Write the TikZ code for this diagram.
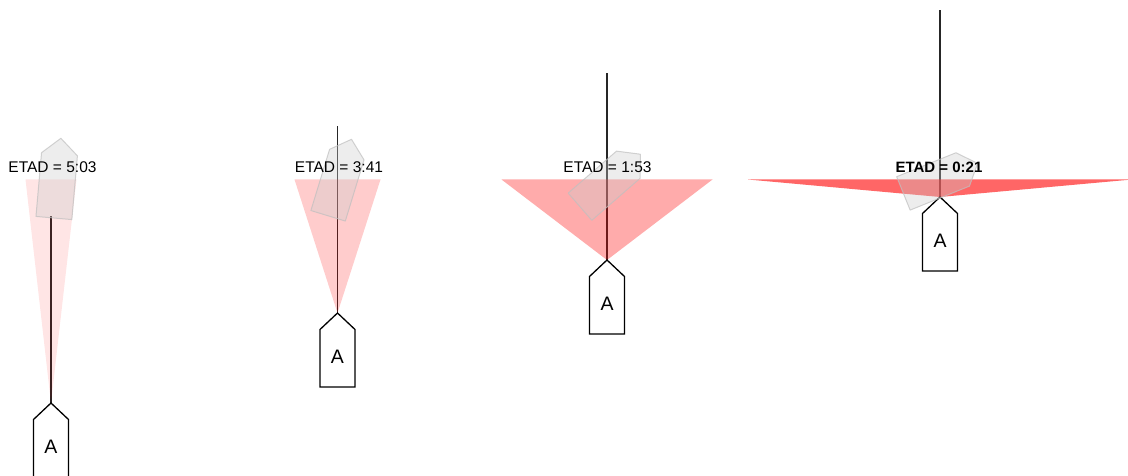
\documentclass[tikz,border=0pt]{standalone}
\usepackage{fontspec}
\setmainfont{Liberation Sans}
\begin{document}
\begin{tikzpicture}[x=1pt,y=-1pt,
  mast/.style={draw=black!85, line width=1.3pt},
  boatline/.style={draw=black, line width=1.3pt, fill=white, line join=miter},
  ghost/.style={fill=black!20, fill opacity=0.35, draw=black!25, draw opacity=0.7, line width=1pt, line join=round},
  etadtext/.style={font=\fontsize{15.5}{18}\selectfont, anchor=base, inner sep=0pt},
  wedge/.style={fill=red, fill opacity=#1},
  boatA/.pic={
    \draw[boatline] (0,0) -- (17.5,16.5) -- (17.5,74) -- (-17.5,74) -- (-17.5,16.5) -- cycle;
    \node[font=\fontsize{19.5}{22}\selectfont] (-lbl) at (0,44) {A};
  },
  greyboat/.pic={
    \draw[ghost] (-18,0) -- (18,0) -- (18,-64) -- (0,-80) -- (-18,-64) -- cycle;
  }
]
\useasboundingbox (0,0) rectangle (1128,476);
\clip (0,0) rectangle (1128,476);

% ---- panel 1
\coordinate (t1) at (51,403);
\coordinate (m1) at (51,216);
\coordinate (wl1) at (25.5,179.5);
\coordinate (wr1) at (76.5,179.5);
\draw[mast] (t1) -- (m1);
\fill[wedge=0.1] (t1) -- (wl1) -- (wr1) -- cycle;
\pic (b1) at (t1) {boatA};
\pic[rotate=-5] (g1) at (53.9,218) {greyboat};
\node[etadtext] (e1) at (52.5,172.7) {ETAD = 5:03};

% ---- panel 2
\coordinate (t2) at (337.5,313);
\coordinate (m2) at (337.5,126);
\coordinate (wl2) at (294.5,179.5);
\coordinate (wr2) at (380.5,179.5);
\draw[mast] (t2) -- (m2);
\fill[wedge=0.2] (t2) -- (wl2) -- (wr2) -- cycle;
\pic (b2) at (t2) {boatA};
\pic[rotate=-17] (g2) at (328.1,215.8) {greyboat};
\node[etadtext] (e2) at (339,172.7) {ETAD = 3:41};

% ---- panel 3
\coordinate (t3) at (607,260);
\coordinate (m3) at (607,73);
\coordinate (wl3) at (501.5,179.5);
\coordinate (wr3) at (712.5,179.5);
\draw[mast] (t3) -- (m3);
\fill[wedge=0.33] (t3) -- (wl3) -- (wr3) -- cycle;
\pic (b3) at (t3) {boatA};
\pic[rotate=-49] (g3) at (580,206.7) {greyboat};
\node[etadtext] (e3) at (607.5,172.7) {ETAD = 1:53};

% ---- panel 4
\coordinate (t4) at (940,197);
\coordinate (m4) at (940,10);
\coordinate (wl4) at (748,179.5);
\coordinate (wr4) at (1132,179.5);
\draw[mast] (t4) -- (m4);
\fill[wedge=0.6] (t4) -- (wl4) -- (wr4) -- cycle;
\pic (b4) at (t4) {boatA};
\pic[rotate=-68] (g4) at (903.4,193.4) {greyboat};
\node[etadtext, font=\fontsize{15}{18}\selectfont\bfseries] (e4) at (939,172.7) {ETAD = 0:21};
\end{tikzpicture}
\end{document}
